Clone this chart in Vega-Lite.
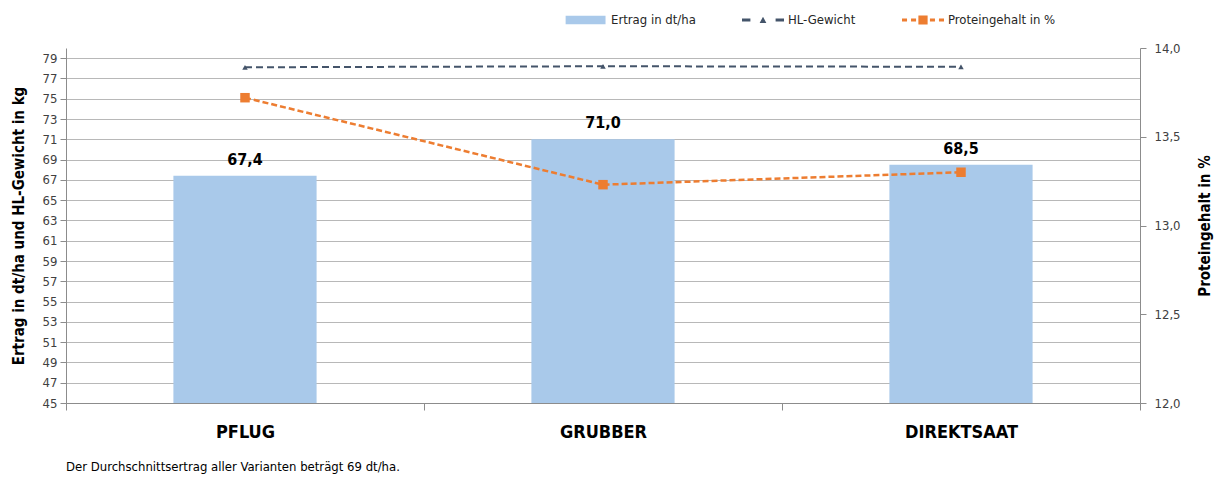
{
  "$schema": "https://vega.github.io/schema/vega-lite/v6.json",
  "width": 1074,
  "height": 355,
  "autosize": "none",
  "padding": {"left": 66, "top": 48, "right": 79, "bottom": 77},
  "config": {
    "locale": {"number": {"decimal": ",", "thousands": ".", "grouping": [3], "currency": ["", " €"]}},
    "view": {"stroke": null},
    "font": "DejaVu Sans Condensed, Liberation Sans, sans-serif"
  },
  "title": {
    "text": "Der Durchschnittsertrag aller Varianten beträgt 69 dt/ha.",
    "orient": "bottom",
    "anchor": "start",
    "frame": "group",
    "fontSize": 13,
    "fontWeight": "normal",
    "color": "#000000",
    "offset": 20
  },
  "data": {
    "values": [
      {"Variante": "PFLUG", "Ertrag": 67.4, "HL": 78.1, "Protein": 13.72},
      {"Variante": "GRUBBER", "Ertrag": 71.0, "HL": 78.2, "Protein": 13.23},
      {"Variante": "DIREKTSAAT", "Ertrag": 68.5, "HL": 78.15, "Protein": 13.3}
    ]
  },
  "encoding": {
    "x": {
      "field": "Variante",
      "type": "nominal",
      "sort": null,
      "scale": {"paddingInner": 0, "paddingOuter": 0},
      "axis": {
        "title": null,
        "labelFontSize": 18,
        "labelFontWeight": "bold",
        "labelColor": "#000000",
        "labelPadding": 13,
        "labelAngle": 0,
        "tickBand": "extent",
        "tickSize": 7,
        "tickColor": "#8c8c8c",
        "domainColor": "#8c8c8c",
        "grid": false
      }
    }
  },
  "layer": [
    {
      "layer": [
        {
          "mark": {"type": "bar", "width": {"band": 0.4}},
          "encoding": {
            "y": {
              "field": "Ertrag",
              "type": "quantitative",
              "scale": {"domain": [45, 80], "zero": false, "nice": false},
              "axis": {
                "values": [45, 47, 49, 51, 53, 55, 57, 59, 61, 63, 65, 67, 69, 71, 73, 75, 77, 79],
                "tickCount": 40,
                "format": "d",
                "labelOverlap": false,
                "title": "Ertrag in dt/ha und HL-Gewicht in kg",
                "titleFontSize": 15,
                "titleFontWeight": "bold",
                "titleColor": "#000000",
                "titlePadding": 16,
                "labelFontSize": 13,
                "labelColor": "#404040",
                "labelPadding": 3,
                "tickSize": 6,
                "tickColor": "#8c8c8c",
                "domainColor": "#8c8c8c",
                "gridColor": "#b8b8b8"
              }
            },
            "y2": {"datum": 45},
            "color": {
              "datum": "Ertrag in dt/ha",
              "scale": {
                "domain": ["Ertrag in dt/ha", "HL-Gewicht", "Proteingehalt in %"],
                "range": ["#A9C9EA", "#44546A", "#ED7D31"]
              },
              "legend": {
                "orient": "none",
                "legendX": 499,
                "legendY": -49,
                "direction": "horizontal",
                "title": null,
                "symbolSize": 1764,
                "labelFontSize": 13,
                "labelColor": "#262626",
                "labelOffset": 4,
                "columnPadding": 46,
                "encode": {
                  "symbols": {
                    "update": {
                      "shape": {"signal": "datum.value === 'Ertrag in dt/ha' ? 'M-0.97,-0.2H0.93V0.2H-0.97Z' : (datum.value === 'HL-Gewicht' ? 'M-1,-0.07H-0.6V0.07H-1Z M-0.16,0.14L0,-0.16L0.16,0.14Z M0.6,-0.07H1V0.07H0.6Z' : 'M-1,-0.07H-0.76V0.07H-1Z M-0.57,-0.07H-0.33V0.07H-0.57Z M-0.22,-0.22H0.22V0.22H-0.22Z M0.33,-0.07H0.57V0.07H0.33Z M0.76,-0.07H1V0.07H0.76Z')"},
                      "fill": {"scale": "color", "field": "value"},
                      "fillOpacity": {"value": 1},
                      "opacity": {"value": 1},
                      "stroke": {"value": "transparent"},
                      "strokeWidth": {"value": 0}
                    }
                  }
                }
              }
            }
          }
        },
        {
          "mark": {"type": "text", "fontSize": 16, "fontWeight": "bold", "color": "#000000", "baseline": "bottom", "dy": -8},
          "encoding": {
            "y": {"field": "Ertrag", "type": "quantitative"},
            "text": {"field": "Ertrag", "type": "quantitative", "format": ".1f"}
          }
        },
        {
          "mark": {"type": "line", "strokeDash": [7, 4], "strokeWidth": 2},
          "encoding": {
            "y": {"field": "HL", "type": "quantitative"},
            "color": {"datum": "HL-Gewicht"}
          }
        },
        {
          "mark": {"type": "point", "shape": "triangle-up", "filled": true, "size": 30, "opacity": 1},
          "encoding": {
            "y": {"field": "HL", "type": "quantitative"},
            "color": {"datum": "HL-Gewicht"}
          }
        }
      ]
    },
    {
      "layer": [
        {
          "mark": {"type": "line", "strokeDash": [6, 3], "strokeWidth": 2.5},
          "encoding": {
            "y": {
              "field": "Protein",
              "type": "quantitative",
              "scale": {"domain": [12, 14], "zero": false, "nice": false},
              "axis": {
                "orient": "right",
                "values": [12, 12.5, 13, 13.5, 14],
                "tickCount": 40,
                "format": ".1f",
                "title": "Proteingehalt in %",
                "titleAngle": 270,
                "titleFontSize": 15,
                "titleFontWeight": "bold",
                "titleColor": "#000000",
                "titlePadding": 32,
                "labelFontSize": 13,
                "labelColor": "#404040",
                "labelPadding": 8,
                "tickSize": 6,
                "tickColor": "#8c8c8c",
                "domainColor": "#8c8c8c",
                "grid": false
              }
            },
            "color": {"datum": "Proteingehalt in %"}
          }
        },
        {
          "mark": {"type": "point", "shape": "square", "filled": true, "size": 90, "opacity": 1},
          "encoding": {
            "y": {"field": "Protein", "type": "quantitative"},
            "color": {"datum": "Proteingehalt in %"}
          }
        }
      ]
    }
  ],
  "resolve": {"scale": {"y": "independent"}}
}
